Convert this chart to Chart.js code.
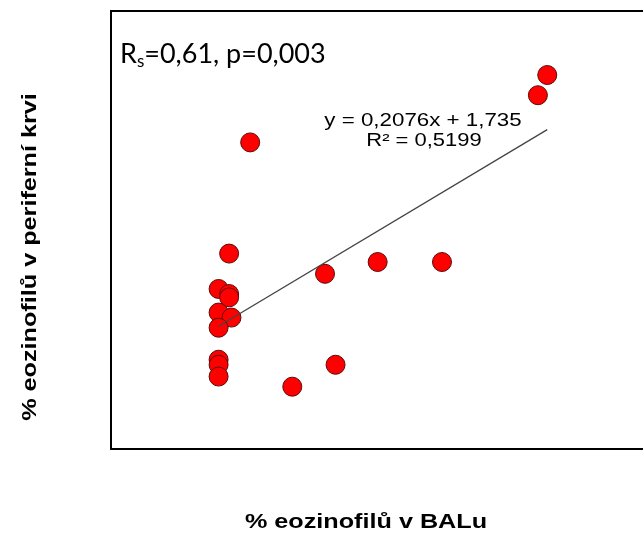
<!DOCTYPE html>
<html>
<head>
<meta charset="utf-8">
<script src="https://cdn.jsdelivr.net/npm/chart.js@4"></script>
<style>
  html, body { margin: 0; padding: 0; background: #fff; overflow: hidden; }
  #wrap { width: 643px; height: 533px; overflow: hidden; position: relative; }
</style>
</head>
<body>
<div id="wrap"><canvas id="scatterChart" width="660" height="533"></canvas></div>
<script>
// % eozinofilu v BALu (x) a v periferni krvi (y)
var balX = [37.3, 36.5, 11.9, 10.1, 18.3, 22.8, 28.3, 9.2, 10.1, 10.1, 9.2, 10.3, 9.2, 9.2, 9.2, 9.2, 19.2, 15.5];
var krevY = [11.1, 10.5, 9.1, 5.8, 5.2, 5.55, 5.55, 4.75, 4.6, 4.5, 4.05, 3.9, 3.6, 2.65, 2.5, 2.15, 2.5, 1.85];

// Excel trendline from the picture
var slope = 0.2076;
var intercept = 1.735;

var xMax = 46;
var yMax = 13;

var points = balX.map(function(v, i) { return { x: v, y: krevY[i] }; });
var xLo = Math.min.apply(null, balX), xHi = Math.max.apply(null, balX);
var trend = [
  { x: xLo, y: slope * xLo + intercept },
  { x: xHi, y: slope * xHi + intercept }
];

// text stretched a bit along its direction, like in the original picture
function stretchText(ctx, text, x, y, sx) {
  ctx.save();
  ctx.translate(x, y);
  ctx.scale(sx, 1);
  ctx.fillText(text, 0, 0);
  ctx.restore();
}

// frame + the texts around the plot
var decor = {
  id: 'decor',
  afterDraw: function(chart) {
    var ctx = chart.ctx, a = chart.chartArea;
    ctx.save();
    ctx.strokeStyle = '#000';
    ctx.lineWidth = 2;
    ctx.strokeRect(a.left, a.top, a.right - a.left, a.bottom - a.top);

    ctx.fillStyle = '#000';
    ctx.textBaseline = 'alphabetic';

    // Rs=0,61, p=0,003
    ctx.textAlign = 'left';
    ctx.font = '27px Lato';
    var x = 120;
    ctx.fillText('R', x, 63);
    x += ctx.measureText('R').width;
    ctx.font = '17px Lato';
    ctx.fillText('s', x, 67);
    x += ctx.measureText('s').width;
    ctx.font = '27px Lato';
    ctx.fillText('=0,61, p=0,003', x, 63);

    // rovnice
    ctx.textAlign = 'center';
    ctx.font = '18px "Liberation Sans"';
    stretchText(ctx, 'y = 0,2076x + 1,735', 423, 126, 1.24);
    stretchText(ctx, 'R\u00b2 = 0,5199', 424, 146, 1.22);

    // osy
    ctx.font = 'bold 21px "Liberation Sans"';
    stretchText(ctx, '% eozinofil\u016f v BALu', 366, 528, 1.2);
    ctx.translate(36, 257);
    ctx.rotate(-Math.PI / 2);
    stretchText(ctx, '% eozinofil\u016f v periferní krvi', 0, 0, 1.2);
    ctx.restore();
  }
};

var ctx = document.getElementById('scatterChart');
var myScatter = new Chart(ctx, {
  type: 'scatter',
  data: {
    datasets: [{
      type: 'line',
      data: trend,
      borderColor: '#444444',
      borderWidth: 1.3,
      pointRadius: 0,
      fill: false,
      order: 0
    }, {
      data: points,
      backgroundColor: '#ff0000',
      borderColor: '#5c0a0a',
      borderWidth: 1,
      pointRadius: 9.5,
      pointHoverRadius: 9.5,
      order: 1
    }]
  },
  plugins: [decor],
  options: {
    responsive: false,
    animation: false,
    layout: { padding: { left: 111, top: 11, right: 11, bottom: 84 } },
    plugins: {
      legend: { display: false },
      tooltip: { enabled: false }
    },
    scales: {
      x: { type: 'linear', display: false, min: 0, max: xMax },
      y: { type: 'linear', display: false, min: 0, max: yMax }
    }
  }
});
</script>
</body>
</html>
